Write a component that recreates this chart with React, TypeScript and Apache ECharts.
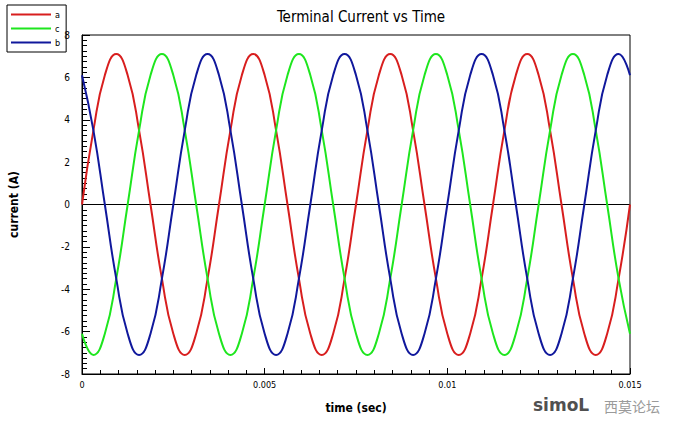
import React, { useEffect, useRef } from "react";
import * as echarts from "echarts";

const times = [
  0, 0.0003125, 0.000625, 0.0009375, 0.00125, 0.0015625, 0.001875, 0.0021875, 0.0025, 0.0028125, 0.003125, 0.0034375,
  0.00375, 0.0040625, 0.004375, 0.0046875, 0.005, 0.0053125, 0.005625, 0.0059375, 0.00625, 0.0065625, 0.006875, 0.0071875,
  0.0075, 0.0078125, 0.008125, 0.0084375, 0.00875, 0.0090625, 0.009375, 0.0096875, 0.01, 0.0103125, 0.010625, 0.0109375,
  0.01125, 0.0115625, 0.011875, 0.0121875, 0.0125, 0.0128125, 0.013125, 0.0134375, 0.01375, 0.0140625, 0.014375, 0.0146875,
  0.015,
];

const seriesA = [
  0, 3.5, 6.1, 7.1, 6.1, 3.5, 0, -3.5, -6.1, -7.1, -6.1, -3.5,
  0, 3.5, 6.1, 7.1, 6.1, 3.5, 0, -3.5, -6.1, -7.1, -6.1, -3.5,
  0, 3.5, 6.1, 7.1, 6.1, 3.5, 0, -3.5, -6.1, -7.1, -6.1, -3.5,
  0, 3.5, 6.1, 7.1, 6.1, 3.5, 0, -3.5, -6.1, -7.1, -6.1, -3.5,
  0,
];

const seriesC = [
  -6.1, -7.1, -6.1, -3.5, 0, 3.5, 6.1, 7.1, 6.1, 3.5, 0, -3.5,
  -6.1, -7.1, -6.1, -3.5, 0, 3.5, 6.1, 7.1, 6.1, 3.5, 0, -3.5,
  -6.1, -7.1, -6.1, -3.5, 0, 3.5, 6.1, 7.1, 6.1, 3.5, 0, -3.5,
  -6.1, -7.1, -6.1, -3.5, 0, 3.5, 6.1, 7.1, 6.1, 3.5, 0, -3.5,
  -6.1,
];

const seriesB = [
  6.1, 3.5, 0, -3.5, -6.1, -7.1, -6.1, -3.5, 0, 3.5, 6.1, 7.1,
  6.1, 3.5, 0, -3.5, -6.1, -7.1, -6.1, -3.5, 0, 3.5, 6.1, 7.1,
  6.1, 3.5, 0, -3.5, -6.1, -7.1, -6.1, -3.5, 0, 3.5, 6.1, 7.1,
  6.1, 3.5, 0, -3.5, -6.1, -7.1, -6.1, -3.5, 0, 3.5, 6.1, 7.1,
  6.1,
];

const FONT = "'DejaVu Sans Condensed', 'DejaVu Sans', sans-serif";

export default function App() {
  const ref = useRef<HTMLDivElement>(null);
  useEffect(() => {
    document.body.style.margin = "0";
    const chart = echarts.init(ref.current!, null, { renderer: "svg" });
    const mk = (vals: number[]) => times.map((t, i) => [t, vals[i]]);
    const lineSeries = (name: string, vals: number[], color: string, extra: any = {}) => ({
      name,
      type: "line",
      data: mk(vals),
      smooth: 0.5,
      symbol: "none",
      lineStyle: { color, width: 2 },
      itemStyle: { color },
      ...extra,
    });
    chart.setOption({
      animation: false,
      backgroundColor: "#fff",
      title: {
        text: "Terminal Current vs Time",
        left: 356,
        textAlign: "center",
        top: 4,
        textStyle: { fontFamily: FONT, fontSize: 15, fontWeight: "normal", color: "#000" },
      },
      legend: {
        orient: "vertical",
        left: 7,
        top: 5,
        data: ["a", "c", "b"],
        icon: "rect",
        itemWidth: 40,
        itemHeight: 2,
        itemGap: 3,
        padding: [4, 6, 4, 4],
        borderColor: "#000",
        borderWidth: 1,
        textStyle: { fontFamily: FONT, fontSize: 9, color: "#000", lineHeight: 11, padding: [0, 0, 0, -1] },
      },
      grid: {
        left: 81,
        right: 46,
        top: 35,
        bottom: 47,
        show: true,
        borderColor: "#000",
        borderWidth: 1,
        backgroundColor: "transparent",
      },
      xAxis: {
        type: "value",
        min: 0,
        max: 0.015,
        interval: 0.005,
        name: "time (sec)",
        nameLocation: "middle",
        nameGap: 28,
        nameTextStyle: { fontFamily: FONT, fontSize: 12, fontWeight: "bold", color: "#000" },
        axisLine: { onZero: false, lineStyle: { color: "#000", width: 1 } },
        axisTick: { inside: true, length: 6, lineStyle: { color: "#000" } },
        minorTick: { show: true, splitNumber: 10, length: 4, lineStyle: { color: "#000" } },
        axisLabel: { fontFamily: FONT, fontSize: 9, color: "#000", margin: 6 },
        splitLine: { show: false },
      },
      yAxis: {
        type: "value",
        min: -8,
        max: 8,
        interval: 2,
        name: "current (A)",
        nameLocation: "middle",
        nameGap: 62,
        nameTextStyle: { fontFamily: FONT, fontSize: 12, fontWeight: "bold", color: "#000" },
        axisLine: { onZero: false, lineStyle: { color: "#000", width: 1 } },
        axisTick: { inside: true, length: 8, lineStyle: { color: "#000" } },
        minorTick: { show: true, splitNumber: 8, length: 5, lineStyle: { color: "#000" } },
        axisLabel: { fontFamily: FONT, fontSize: 10, color: "#000", margin: 12 },
        splitLine: { show: false },
      },
      series: [
        lineSeries("a", seriesA, "#d81e1e", {
          markLine: {
            silent: true,
            symbol: "none",
            label: { show: false },
            lineStyle: { color: "#000", width: 1, type: "solid" },
            data: [{ yAxis: 0 }],
            z: 1,
          },
        }),
        lineSeries("c", seriesC, "#1ee61e"),
        lineSeries("b", seriesB, "#10189c"),
      ],
      graphic: [
        {
          type: "text",
          left: 533,
          top: 396,
          style: {
            text: "simoL",
            fontFamily: "'DejaVu Sans', sans-serif",
            fontSize: 17,
            fontWeight: "bold",
            fill: "#505050",
          },
        },
        {
          type: "text",
          left: 604,
          top: 399,
          style: {
            text: "西莫论坛",
            fontFamily: "'Noto Sans CJK SC', sans-serif",
            fontSize: 14,
            fill: "#9a9a9a",
          },
        },
      ],
    });
    return () => chart.dispose();
  }, []);
  return <div ref={ref} style={{ width: 676, height: 421 }} />;
}
